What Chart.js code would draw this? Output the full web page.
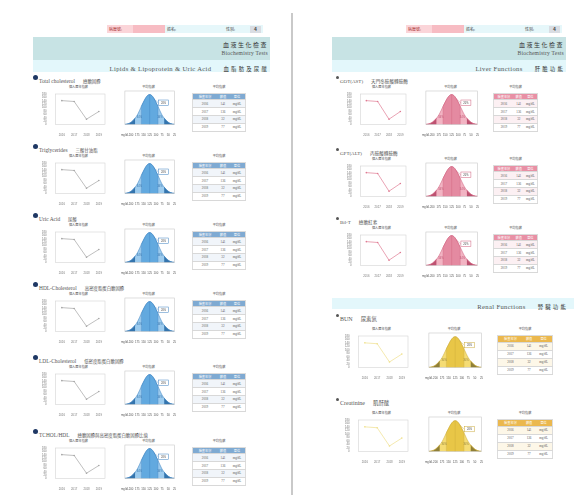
<!DOCTYPE html>
<html>
<head>
<meta charset="utf-8">
<script src="https://cdn.jsdelivr.net/npm/chart.js@4.4.0/dist/chart.umd.min.js"></script>
<style>
  body { margin: 0; width: 574px; height: 495px; background: #fff; position: relative; overflow: hidden;
         font-family: "Liberation Serif", "Noto Sans CJK TC", serif; color: #444; }
  .abs { position: absolute; }
  .zh { font-family: "Noto Sans CJK TC", sans-serif; }
  .cap { position: absolute; font-family: "Noto Sans CJK TC", sans-serif; font-size: 3.2px; text-align: center; color: #555; }
  table.val { position: absolute; border-collapse: collapse; font-family: "Liberation Serif", "Noto Sans CJK TC"; font-size: 3.2px; color: #555; }
  table.val td, table.val th { text-align: center; padding: 0; border-bottom: 0.5px solid #d8d8d8; }
  table.val th { color: #fff; font-weight: normal; font-family: "Noto Sans CJK TC"; }
</style>
</head>
<body>
<script>
// ---- data ----
const years = ["2016", "2017", "2018", "2019"];
const personal = [141, 136, 32, 77];
const unit = "mg/dL";
const yMax = 180;
const yStep = 20;

// average-index bell, heights read as % of the peak
const bell = [1, 2, 4, 8, 14, 22, 32, 46, 61, 75, 88, 97, 100, 97, 88, 75, 61, 46, 32, 22, 14, 8, 4, 2, 1];
const bellTicks = ["mg/dL", "", "", "200", "", "", "175", "", "", "150", "", "", "125",
                   "", "", "100", "", "", "75", "", "", "50", "", "", "25"];
const calloutText = "20%";
const sideText = "34%";

const lipidItems = [
  ["Total cholesterol", "總膽固醇"],
  ["Triglycerides", "三酸甘油脂"],
  ["Uric Acid", "尿酸"],
  ["HDL-Cholesterol", "高密度脂蛋白膽固醇"],
  ["LDL-Cholesterol", "低密度脂蛋白膽固醇"],
  ["TCHOL/HDL", "總膽固醇與高密度脂蛋白膽固醇比值"]
];
const liverItems = [
  ["GOT(AST)", "天門冬胺酸轉胺酶"],
  ["GPT(ALT)", "丙胺酸轉胺酶"],
  ["Bil-T", "總膽紅素"]
];
const renalItems = [
  ["BUN", "尿素氮"],
  ["Creatinine", "肌酐酸"]
];

const themes = {
  blue:   { line: "#a3a3a3", light: "#9ccbee", mid: "#62a9df", dark: "#3474ad", edge: "#3d80bf", head: "#7faad2", row: "#f1f5fa", bullet: "#1f3864" },
  pink:   { line: "#df7b93", light: "#f2b4c3", mid: "#e48aa1", dark: "#bd5170", edge: "#cf5f7c", head: "#e890a5", row: "#fcf0f3", bullet: "#555" },
  yellow: { line: "#efe08c", light: "#f5dc74", mid: "#e8c647", dark: "#8f7f38", edge: "#c9a93a", head: "#ebb84e", row: "#fdf7e8", bullet: "#555" }
};

// ---- helpers ----
function box(x, y, w, h, bg, html, css) {
  const d = document.createElement("div");
  d.className = "abs";
  d.style.cssText = `left:${x}px;top:${y}px;width:${w}px;height:${h}px;background:${bg || "transparent"};${css || ""}`;
  if (html) d.innerHTML = html;
  document.body.appendChild(d);
  return d;
}

const frame = {
  id: "frame",
  afterDraw(chart, args, o) {
    const a = chart.chartArea, c = chart.ctx;
    c.save();
    c.strokeStyle = o.color || "#d0d0d0";
    c.lineWidth = 0.6;
    c.strokeRect(a.left, a.top, a.right - a.left, a.bottom - a.top);
    c.restore();
  }
};

const bellMarks = {
  id: "bellMarks",
  afterDatasetsDraw(chart, args, o) {
    const x = chart.scales.x, y = chart.scales.y, c = chart.ctx;
    c.save();
    c.strokeStyle = o.edge;
    c.lineWidth = 0.4;
    [8, 12, 16].forEach(i => {
      const px = x.getPixelForValue(i);
      c.beginPath();
      c.moveTo(px, y.getPixelForValue(0));
      c.lineTo(px, y.getPixelForValue(bell[i]));
      c.stroke();
    });
    // callout
    const cx = x.getPixelForValue(14), cy = y.getPixelForValue(bell[14] * 0.98);
    const bx = x.getPixelForValue(16.3), by = y.getPixelForValue(82);
    c.beginPath(); c.moveTo(cx, cy); c.lineTo(bx, by + 3); c.stroke();
    c.fillStyle = "#fff";
    c.lineWidth = 0.5;
    c.fillRect(bx, by, 10, 5.5);
    c.strokeRect(bx, by, 10, 5.5);
    c.fillStyle = "#444";
    c.font = "2.6px 'Liberation Sans'";
    c.textAlign = "center"; c.textBaseline = "middle";
    c.fillText(calloutText, bx + 5, by + 2.9);
    c.fillStyle = o.dark;
    c.fillText(sideText, x.getPixelForValue(7), y.getPixelForValue(25));
    c.fillText(sideText, x.getPixelForValue(17), y.getPixelForValue(25));
    c.restore();
  }
};

function canvas(x, y, w, h) {
  const cv = document.createElement("canvas");
  cv.width = w; cv.height = h;
  cv.className = "abs";
  cv.style.cssText = `left:${x}px;top:${y}px;width:${w}px;height:${h}px;`;
  document.body.appendChild(cv);
  return cv;
}

const tickFont = { size: 2.8, family: "Liberation Sans" };

function lineChart(cv, th) {
  new Chart(cv, {
    type: "line",
    data: {
      labels: years,
      datasets: [{
        data: personal,
        borderColor: th.line,
        backgroundColor: th.line,
        borderWidth: 0.7,
        pointRadius: 0.8,
        pointBorderWidth: 0
      }]
    },
    options: {
      responsive: false,
      animation: false,
      layout: { padding: { right: 1, top: 1 } },
      plugins: { legend: { display: false }, tooltip: { enabled: false }, frame: { color: "#d4d4d4" } },
      scales: {
        x: { offset: true, grid: { display: false }, border: { display: false },
             ticks: { font: tickFont, color: "#777", padding: 1, maxRotation: 0 } },
        y: { min: 0, max: yMax, grid: { display: false }, border: { display: false },
             ticks: { stepSize: yStep, autoSkip: false, font: tickFont, color: "#777", padding: 1 } }
      }
    },
    plugins: [frame]
  });
}

function bellChart(cv, th) {
  const part = (from, to) => bell.map((v, i) => (i >= from && i <= to ? v : null));
  const ds = (data, color) => ({ data, fill: "origin", backgroundColor: color, borderColor: th.edge,
    borderWidth: 0.5, pointRadius: 0, cubicInterpolationMode: "monotone", spanGaps: false });
  new Chart(cv, {
    type: "line",
    data: {
      labels: bellTicks,
      datasets: [ds(part(0, 5), th.dark), ds(part(19, 24), th.dark), ds(part(8, 16), th.mid), ds(bell, th.light)]
    },
    options: {
      responsive: false,
      animation: false,
      layout: { padding: { left: 1, right: 1, top: 1 } },
      plugins: { legend: { display: false }, tooltip: { enabled: false }, frame: { color: "#c8c8c8" },
                 bellMarks: { edge: th.edge, dark: th.dark } },
      scales: {
        x: { grid: { display: false }, border: { display: false },
             ticks: { font: tickFont, color: "#555", padding: 1, autoSkip: false, maxRotation: 0 } },
        y: { display: false, min: 0, max: 112 }
      }
    },
    plugins: [frame, bellMarks]
  });
}

function valueTable(x, y, w, th, rowH) {
  let html = `<tr style="background:${th.head};height:${rowH - 1.5}px"><th>檢查年份</th><th>數值</th><th>單位</th></tr>`;
  years.forEach((yr, i) => {
    html += `<tr style="background:${i % 2 ? "#fff" : th.row};height:${rowH}px"><td>${yr}</td><td>${personal[i]}</td><td>${unit}</td></tr>`;
  });
  const t = document.createElement("table");
  t.className = "val";
  t.style.cssText = `left:${x}px;top:${y}px;width:${w}px;border:0.5px solid #dcdcdc;`;
  t.innerHTML = html;
  document.body.appendChild(t);
}

function section(item, T, th, g) {
  // title row
  const bs = g.bulletSize;
  box(g.bx, T - bs / 2, bs, bs, th.bullet, "", "border-radius:50%;");
  box(g.bx + bs + 1, T - 3.5, 200, 7, "",
    `<span style="font-size:${g.tsize}px">${item[0]}</span>&nbsp;&nbsp;<span class="zh" style="font-size:${g.zsize}px">${item[1]}</span>`,
    "line-height:7px;white-space:nowrap;color:#555;");
  const top = T + g.dy;
  // captions
  const c1 = box(g.line[0], top - 8, g.line[1] - g.line[0], 4, "", "個人歷年指數"); c1.className = "cap";
  const c2 = box(g.bell[0], top - 8, g.bell[1] - g.bell[0], 4, "", "平均指數"); c2.className = "cap";
  const c3 = box(g.table[0], top - 8, g.table[1] - g.table[0], 4, "", "平均指數"); c3.className = "cap";
  // charts
  lineChart(canvas(g.line[0] - 9, top - 2, g.line[1] - g.line[0] + 11, g.h + 8), th);
  bellChart(canvas(g.bell[0] - 2, top - 2, g.bell[1] - g.bell[0] + 4, g.h + 8), th);
  valueTable(g.table[0], top + 1, g.table[1] - g.table[0], th, (g.h - 4) / 4.6);
}

function pageHeader(ox, bandR, group, groupZh) {
  box(ox + 107, 25, 26, 8, "#fbd5d9", "病歷號:", "font-size:4px;line-height:8px;color:#a33;font-family:'Noto Sans CJK TC';padding-left:2px;box-sizing:border-box;");
  box(ox + 133, 25, 32, 8, "#f7bcc3");
  box(ox + 165, 25, 98, 8, "#e6f7fa", "姓名:", "font-size:4px;line-height:8px;font-family:'Noto Sans CJK TC';padding-left:2px;box-sizing:border-box;");
  box(ox + 226, 25, 20, 8, "", "性別:", "font-size:4px;line-height:8px;font-family:'Noto Sans CJK TC';");
  box(ox + 250, 26, 11, 7, "#d9dde3", "4", "font-size:5px;line-height:7px;text-align:center;font-weight:bold;font-family:'Liberation Sans';");
  box(ox + 33, 37, bandR - ox - 33, 23, "#c7e3e4",
    `<div class="zh" style="font-size:6px;letter-spacing:1.5px;line-height:11px;padding-top:2px;color:#333">血液生化檢查</div>` +
    `<div style="font-size:5.6px;line-height:7px;letter-spacing:0.2px;color:#555">Biochemistry Tests</div>`,
    "text-align:right;padding-right:2px;box-sizing:border-box;");
  box(ox + 33, 60, bandR - ox - 33, 12, "#e3f7fb",
    `<span style="font-size:6.6px;letter-spacing:0.35px;color:#555">${group}</span>&nbsp;&nbsp;&nbsp;<span class="zh" style="font-size:5.4px;letter-spacing:2.2px;color:#333">${groupZh}</span>`,
    "text-align:right;line-height:12px;padding-right:1px;box-sizing:border-box;white-space:nowrap;");
}

// ---- left page ----
pageHeader(0, 270, "Lipids &amp; Lipoprotein &amp; Uric Acid", "血脂肪及尿酸");
const leftGeo = { bx: 33, bulletSize: 5, tsize: 5.4, zsize: 4.4, dy: 15, h: 40,
  line: [50, 107], bell: [122, 175], table: [192, 246] };
[77, 146, 215, 284, 357, 431].forEach((T, i) => section(lipidItems[i], T, themes.blue, leftGeo));

// page divider
box(291, 13, 2, 482, "#c9c9c9");

// ---- right page ----
pageHeader(299, 566, "Liver Functions", "肝膽功能");
const liverGeo = { bx: 336, bulletSize: 3, tsize: 5, zsize: 4.6, dy: 15, h: 40,
  line: [355, 408], bell: [423, 478], table: [493, 538] };
[77, 149, 218].forEach((T, i) => section(liverItems[i], T, themes.pink, liverGeo));

box(332, 298, 242, 11, "#e3f7fb",
  `<span style="font-size:6.6px;letter-spacing:0.35px;color:#555">Renal Functions</span>&nbsp;&nbsp;&nbsp;<span class="zh" style="font-size:5.4px;letter-spacing:2.2px;color:#333">腎臟功能</span>`,
  "text-align:right;line-height:11px;padding-right:6px;box-sizing:border-box;white-space:nowrap;");
const renalGeo = { bx: 336, bulletSize: 3, tsize: 6, zsize: 5.4, dy: 19, h: 41,
  line: [353, 410], bell: [426, 482], table: [497, 553] };
[315, 399].forEach((T, i) => section(renalItems[i], T, themes.yellow, renalGeo));
</script>
</body>
</html>
